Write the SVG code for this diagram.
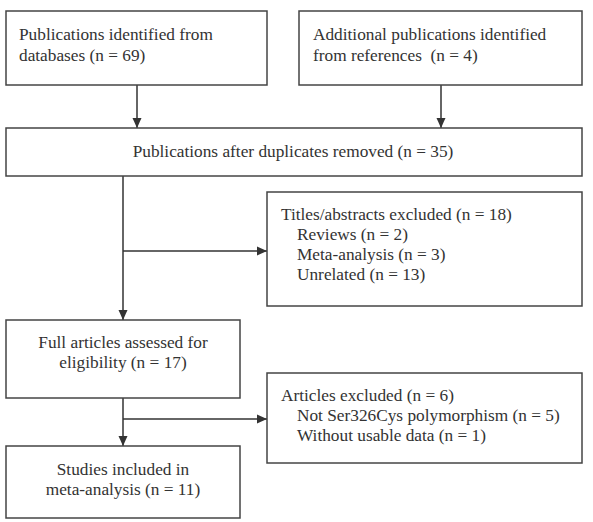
<svg xmlns="http://www.w3.org/2000/svg" width="593" height="522" viewBox="0 0 593 522">
<style>
.box{fill:#fff;stroke:#444;stroke-width:1.5}
.t{font-family:"Liberation Serif","Times New Roman",serif;font-size:17.3px;fill:#333}
.c{text-anchor:middle}
.ln{fill:none;stroke:#333;stroke-width:1.5}
</style>
<defs>
<marker id="ah" markerUnits="userSpaceOnUse" markerWidth="10" markerHeight="10" viewBox="0 0 10 10" refX="10" refY="5" orient="auto">
<path d="M0,0.5 L10,5 L0,9.5 Z" fill="#333"/>
</marker>
</defs>
<rect width="593" height="522" fill="#fff"/>
<g id="connectors">
<line class="ln" x1="137" y1="85" x2="137" y2="128" marker-end="url(#ah)"/>
<line class="ln" x1="441" y1="85" x2="441" y2="128" marker-end="url(#ah)"/>
<line class="ln" x1="123" y1="176" x2="123" y2="320" marker-end="url(#ah)"/>
<line class="ln" x1="123" y1="251" x2="267" y2="251" marker-end="url(#ah)"/>
<line class="ln" x1="123" y1="398" x2="123" y2="446" marker-end="url(#ah)"/>
<line class="ln" x1="123" y1="419" x2="267" y2="419" marker-end="url(#ah)"/>
</g>
<g id="n1">
<rect class="box" x="6" y="11" width="261" height="74"/>
<text class="t" x="19" y="40">Publications identified from</text>
<text class="t" x="19" y="61">databases (n = 69)</text>
</g>
<g id="n2">
<rect class="box" x="299" y="11" width="283" height="74"/>
<text class="t" x="313" y="40">Additional publications identified</text>
<text class="t" x="313" y="61" xml:space="preserve">from references  (n = 4)</text>
</g>
<g id="n3">
<rect class="box" x="6" y="128" width="576" height="48"/>
<text class="t c" x="293" y="157">Publications after duplicates removed (n = 35)</text>
</g>
<g id="n4">
<rect class="box" x="267" y="192" width="315" height="114"/>
<text class="t" x="281" y="220">Titles/abstracts excluded (n = 18)</text>
<text class="t" x="297" y="240">Reviews (n = 2)</text>
<text class="t" x="297" y="260">Meta-analysis (n = 3)</text>
<text class="t" x="297" y="280">Unrelated (n = 13)</text>
</g>
<g id="n5">
<rect class="box" x="6" y="320" width="234" height="78"/>
<text class="t c" x="123" y="348">Full articles assessed for</text>
<text class="t c" x="123" y="368">eligibility (n = 17)</text>
</g>
<g id="n6">
<rect class="box" x="267" y="373" width="315" height="90"/>
<text class="t" x="281" y="401">Articles excluded (n = 6)</text>
<text class="t" x="297" y="421">Not Ser326Cys polymorphism (n = 5)</text>
<text class="t" x="297" y="441">Without usable data (n = 1)</text>
</g>
<g id="n7">
<rect class="box" x="6" y="446" width="234" height="72"/>
<text class="t c" x="123" y="475">Studies included in</text>
<text class="t c" x="123" y="495">meta-analysis (n = 11)</text>
</g>
</svg>
